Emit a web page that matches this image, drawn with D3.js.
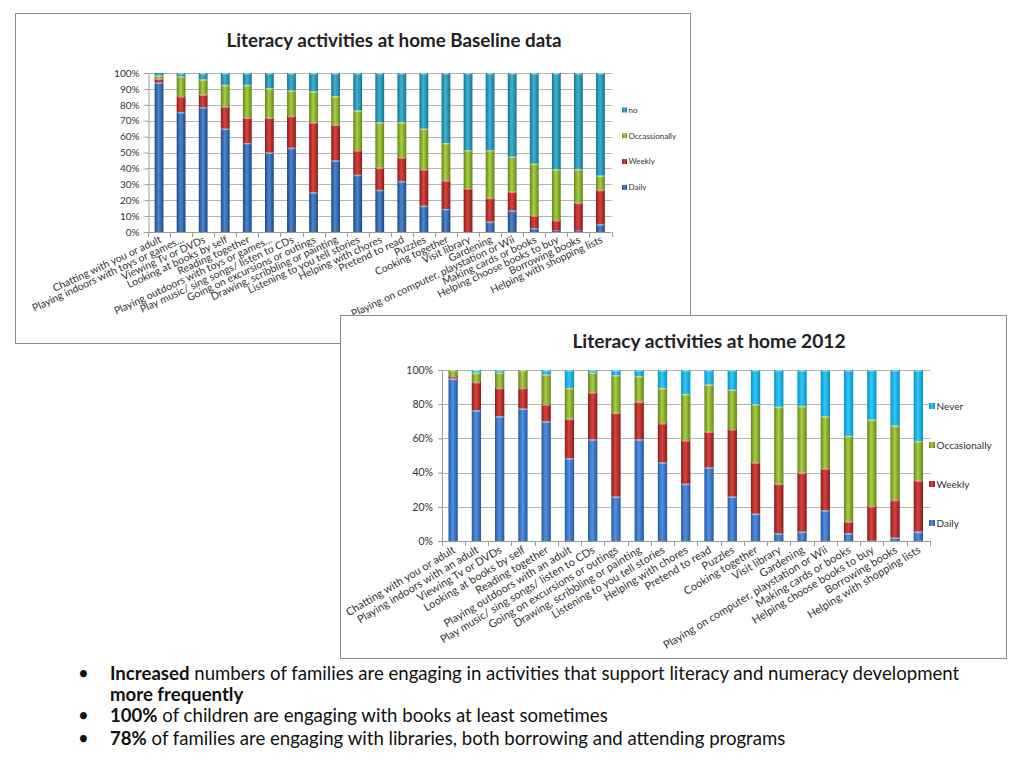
<!DOCTYPE html>
<html>
<head>
<meta charset="utf-8">
<script src="https://cdn.jsdelivr.net/npm/d3@7"></script>
<style>
  body { margin: 0; background: #fff; }
  svg { display: block; font-family: Lato, "Open Sans", sans-serif; }
</style>
</head>
<body>
<div id="chart"></div>
<script>
// baseline survey
const categories1 = [
  'Chatting with you or adult', 'Playing indoors with toys or games...', 'Viewing Tv or DVDs',
  'Looking at books by self', 'Reading together', 'Playing outdoors with toys or games...',
  'Play music/ sing songs/ listen to CDs', 'Going on excursions or outings',
  'Drawing, scribbling or painting', 'Listening to you tell stories', 'Helping with chores',
  'Pretend to read', 'Puzzles', 'Cooking together', 'Visit library', 'Gardening',
  'Playing on computer, playstation or Wii', 'Making cards or books',
  'Helping choose books to buy', 'Borrowing books', 'Helping with shopping lists'
]
const daily1 = [94, 75.5, 78.5, 65, 56, 50, 53, 25, 45, 36, 26.5, 32, 16.5, 14.5, 0, 6.5, 13.5, 2.5, 1, 1, 5]
const weekly1 = [2.5, 10, 8, 14, 16, 22, 20, 44, 22.5, 15.5, 14, 15, 23, 18, 27.5, 15, 12, 8, 6.5, 17.5, 21.5]
const occasionally1 = [2, 12.5, 9.5, 13.5, 20.5, 18.5, 16, 19.5, 18, 25, 28.5, 22, 25.5, 23.5, 24, 30, 22, 32.5, 32, 21, 9]
const no1 = [1.5, 2, 4, 7.5, 7.5, 9.5, 11, 11.5, 14.5, 23.5, 31, 31, 35, 44, 48.5, 48.5, 52.5, 57, 60.5, 60.5, 64.5]

// 2012 survey
const categories2 = [
  'Chatting with you or adult', 'Playing indoors  with an adult', 'Viewing Tv or DVDs',
  'Looking at books by self', 'Reading together', 'Playing outdoors  with an adult',
  'Play music/ sing songs/ listen to CDs', 'Going on excursions or outings',
  'Drawing, scribbling or painting', 'Listening to you tell stories', 'Helping with chores',
  'Pretend to read', 'Puzzles', 'Cooking together', 'Visit library', 'Gardening',
  'Playing on computer, playstation or Wii', 'Making cards or books',
  'Helping choose books to buy', 'Borrowing books', 'Helping with shopping lists'
]
const daily2 = [95, 76.5, 73, 77.5, 70, 48.5, 59.5, 26, 59.5, 46, 33.5, 43, 26, 16, 4.5, 5.5, 18, 4.5, 0.5, 2, 5.5]
const weekly2 = [1.5, 16.5, 16.5, 12, 10, 23, 27.5, 49, 22, 23, 25.5, 21, 39.5, 30, 29, 34.5, 24.5, 7, 20, 22, 30]
const occasionally2 = [3.5, 5.5, 9, 10.5, 17.5, 18, 11.5, 22, 15, 20.5, 27, 27.5, 23, 34, 45, 39, 30.5, 50, 50.5, 43.5, 23]
const never2 = [0, 1.5, 1.5, 0, 2.5, 10.5, 1.5, 3, 3.5, 10.5, 14, 8.5, 11.5, 20, 21.5, 21, 27, 38.5, 29, 32.5, 41.5]

const yTicks1 = d3.range(0, 1.01, 0.1)
const yTicks2 = d3.range(0, 1.01, 0.2)

const bullets = [
  [['Increased', true], [' numbers of families are engaging in activities that support literacy and numeracy development', false]],
  [['more frequently', true]],
  [['100%', true], [' of children are engaging with books at least sometimes', false]],
  [['78%', true], [' of families are engaging with libraries, both borrowing and attending programs', false]]
]

const svg = d3.select('#chart').append('svg')
  .attr('width', 1024)
  .attr('height', 768)

const defs = svg.append('defs')

// excel 2007 style shaded bars: dark edges, light middle
const shades = {
  daily1: ['#1d4a86', '#4c86cf'],
  weekly: ['#8a1c1a', '#d9443d'],
  occ: ['#64861a', '#a9cf42'],
  no1: ['#17748f', '#3db3d3'],
  daily2: ['#2558a8', '#5592dc'],
  never2: ['#0592cc', '#35c8f6']
}
Object.entries(shades).forEach(([id, c]) => {
  const g = defs.append('linearGradient').attr('id', 'g-' + id)
    .attr('x1', 0).attr('x2', 1).attr('y1', 0).attr('y2', 0)
  g.append('stop').attr('offset', '0%').attr('stop-color', c[0])
  g.append('stop').attr('offset', '45%').attr('stop-color', c[1])
  g.append('stop').attr('offset', '100%').attr('stop-color', c[0])
})

function drawChart(cfg) {
  const box = svg.append('g')

  box.append('rect')
    .attr('x', cfg.box.x + 0.5).attr('y', cfg.box.y + 0.5)
    .attr('width', cfg.box.w).attr('height', cfg.box.h)
    .attr('fill', '#fff')
    .attr('stroke', '#8c8c8c')

  box.append('text')
    .attr('x', cfg.titleX).attr('y', cfg.titleY)
    .attr('text-anchor', 'middle')
    .attr('font-size', cfg.titleSize)
    .attr('font-weight', 'bold')
    .attr('fill', '#222')
    .text(cfg.title)

  const x = d3.scaleBand()
    .domain(cfg.categories)
    .range([cfg.plot.left, cfg.plot.right])
    .paddingInner(0.6)
    .paddingOuter(0.3)

  const y = d3.scaleLinear()
    .domain([0, 1])
    .range([cfg.plot.bottom, cfg.plot.top])

  // gridlines
  box.append('g')
    .selectAll('line')
    .data(cfg.yTicks.slice(1))
    .join('line')
    .attr('x1', cfg.plot.left).attr('x2', cfg.plot.right)
    .attr('y1', d => Math.round(y(d)) + 0.5).attr('y2', d => Math.round(y(d)) + 0.5)
    .attr('stroke', '#b4b4b4')

  const yAxis = box.append('g')
    .attr('transform', `translate(${cfg.plot.left + 0.5},0)`)
    .call(d3.axisLeft(y).tickValues(cfg.yTicks).tickFormat(d3.format('.0%')).tickSize(4).tickPadding(5))
  yAxis.select('.domain').attr('stroke', '#9a9a9a')
  yAxis.selectAll('.tick line').attr('stroke', '#9a9a9a')
  yAxis.selectAll('.tick text')
    .attr('font-size', cfg.tickSize)
    .attr('font-family', 'Lato, sans-serif')
    .attr('fill', '#333')

  const rows = cfg.categories.map((c, i) => {
    const r = { cat: c }
    cfg.series.forEach(s => { r[s.key] = s.values[i] })
    return r
  })
  const stack = d3.stack()
    .keys(cfg.series.map(s => s.key))
    .offset(d3.stackOffsetExpand)(rows)

  stack.forEach((layer, li) => {
    const s = cfg.series[li]
    const g = box.append('g')
    g.selectAll('rect.seg')
      .data(layer.filter(d => d[1] - d[0] > 0.0001))
      .join('rect')
      .attr('class', 'seg')
      .attr('x', d => x(d.data.cat))
      .attr('width', x.bandwidth())
      .attr('y', d => y(d[1]))
      .attr('height', d => y(d[0]) - y(d[1]))
      .attr('fill', `url(#g-${s.grad})`)
    // light cap on top of each segment
    g.selectAll('rect.cap')
      .data(layer.filter(d => y(d[0]) - y(d[1]) > 2.5))
      .join('rect')
      .attr('class', 'cap')
      .attr('x', d => x(d.data.cat) + 1)
      .attr('width', x.bandwidth() - 2)
      .attr('y', d => y(d[1]))
      .attr('height', 1.5)
      .attr('fill', '#fff')
      .attr('opacity', 0.45)
  })

  // x axis with ticks between categories
  const xa = box.append('g')
  xa.append('line')
    .attr('x1', cfg.plot.left).attr('x2', cfg.plot.right)
    .attr('y1', cfg.plot.bottom + 0.5).attr('y2', cfg.plot.bottom + 0.5)
    .attr('stroke', '#9a9a9a')
  const step = x.step()
  xa.selectAll('line.t')
    .data(d3.range(cfg.categories.length + 1))
    .join('line')
    .attr('class', 't')
    .attr('x1', i => Math.round(cfg.plot.left + i * step) + 0.5)
    .attr('x2', i => Math.round(cfg.plot.left + i * step) + 0.5)
    .attr('y1', cfg.plot.bottom).attr('y2', cfg.plot.bottom + 5)
    .attr('stroke', '#9a9a9a')

  xa.selectAll('text')
    .data(cfg.categories)
    .join('text')
    .attr('transform', d => `translate(${x(d) + x.bandwidth() / 2 + 3},${cfg.plot.bottom + cfg.labelDy}) rotate(${cfg.labelAngle})`)
    .attr('text-anchor', 'end')
    .attr('font-size', cfg.labelSize)
    .attr('fill', '#333')
    .text(d => d)

  // legend, top entry is the last series
  const leg = box.append('g')
  cfg.series.slice().reverse().forEach((s, i) => {
    const ly = cfg.legend.y + i * cfg.legend.gap
    leg.append('rect')
      .attr('x', cfg.legend.x).attr('y', ly - cfg.legend.mark / 2)
      .attr('width', cfg.legend.mark).attr('height', cfg.legend.mark)
      .attr('fill', `url(#g-${s.grad})`)
    leg.append('text')
      .attr('x', cfg.legend.x + cfg.legend.mark + 1.5).attr('y', ly)
      .attr('dy', '0.35em')
      .attr('font-size', cfg.legend.size)
      .attr('fill', '#333')
      .text(s.name)
  })
}

drawChart({
  box: { x: 15, y: 13, w: 675, h: 330 },
  title: 'Literacy activities at home Baseline data',
  titleX: 394, titleY: 47, titleSize: 18.8,
  plot: { left: 148, right: 611.5, top: 73, bottom: 232 },
  categories: categories1,
  yTicks: yTicks1,
  tickSize: 10,
  labelSize: 10.4, labelAngle: -25, labelDy: 10,
  series: [
    { key: 'daily', name: 'Daily', values: daily1, grad: 'daily1' },
    { key: 'weekly', name: 'Weekly', values: weekly1, grad: 'weekly' },
    { key: 'occ', name: 'Occassionally', values: occasionally1, grad: 'occ' },
    { key: 'no', name: 'no', values: no1, grad: 'no1' }
  ],
  legend: { x: 622, y: 110, gap: 25.8, mark: 5, size: 8 }
})

drawChart({
  box: { x: 340, y: 315, w: 666, h: 343 },
  title: 'Literacy activities at home 2012',
  titleX: 709, titleY: 348, titleSize: 19.2,
  plot: { left: 441.5, right: 930, top: 370, bottom: 541 },
  categories: categories2,
  yTicks: yTicks2,
  tickSize: 10.5,
  labelSize: 11, labelAngle: -31, labelDy: 11,
  series: [
    { key: 'daily', name: 'Daily', values: daily2, grad: 'daily2' },
    { key: 'weekly', name: 'Weekly', values: weekly2, grad: 'weekly' },
    { key: 'occ', name: 'Occasionally', values: occasionally2, grad: 'occ' },
    { key: 'never', name: 'Never', values: never2, grad: 'never2' }
  ],
  legend: { x: 929, y: 406, gap: 39, mark: 6, size: 10 }
})

// bullet text under the charts
const notes = svg.append('g').attr('font-size', 18.6).attr('fill', '#111')
const lineY = [680, 701, 722, 745]
bullets.forEach((line, i) => {
  if (i !== 1) {
    notes.append('text').attr('x', 78).attr('y', lineY[i]).text('•')
  }
  const t = notes.append('text').attr('x', 110).attr('y', lineY[i])
  line.forEach(([txt, bold]) => {
    t.append('tspan').attr('font-weight', bold ? 'bold' : 'normal').text(txt)
  })
})
</script>
</body>
</html>
